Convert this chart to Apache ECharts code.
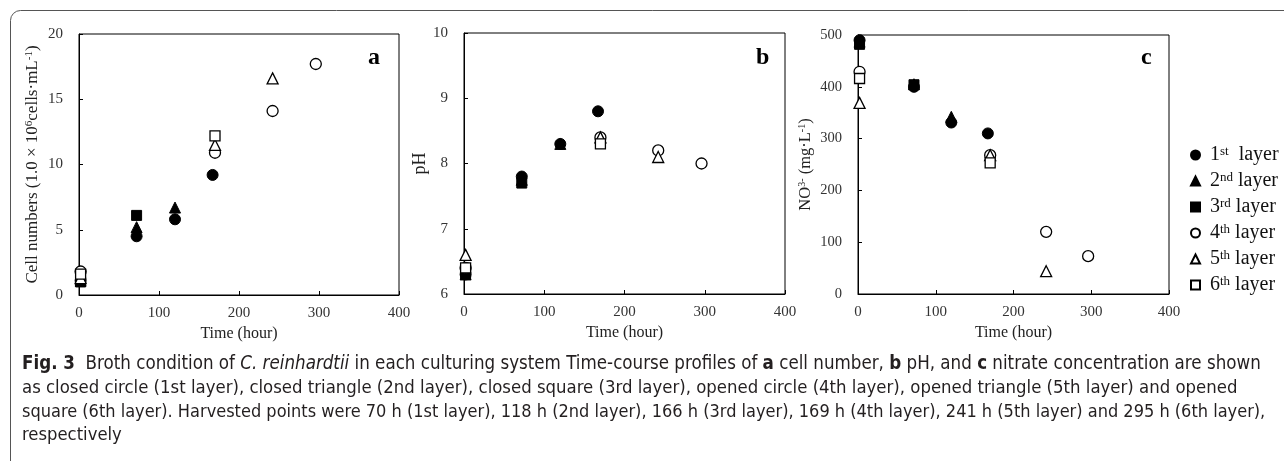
<!DOCTYPE html>
<html>
<head>
<meta charset="utf-8">
<title>Fig. 3</title>
<script src="https://cdn.jsdelivr.net/npm/echarts@6/dist/echarts.min.js"></script>
<style>
  html, body { margin: 0; padding: 0; background: #fff; }
  #chart { width: 1284px; height: 461px; }
</style>
</head>
<body>
<div id="chart"></div>
<script>
  // layer names and tick values
  const layers = ['1st layer', '2nd layer', '3rd layer', '4th layer', '5th layer', '6th layer'];
  const layerSup = ['st', 'nd', 'rd', 'th', 'th', 'th'];
  const timeTicks = [0, 400, 100];
  const cellTicks = [0, 20, 5];
  const phTicks = [6, 10, 1];
  const no3Ticks = [0, 500, 100];

  // a: cell numbers, [time (h), value]
  const cellL1 = [[2, 1.1], [72, 4.5], [120, 5.8], [167, 9.2]];
  const cellL2 = [[2, 1.1], [72, 5.2], [120, 6.7]];
  const cellL3 = [[2, 1.0], [72, 6.1]];
  const cellL4 = [[2, 1.8], [170, 10.9], [242, 14.1], [296, 17.7]];
  const cellL5 = [[2, 1.3], [170, 11.5], [242, 16.6]];
  const cellL6 = [[2, 1.6], [170, 12.2]];

  // b: pH
  const phL1 = [[2, 6.3], [72, 7.8], [120, 8.3], [167, 8.8]];
  const phL2 = [[2, 6.3], [72, 7.75], [120, 8.3]];
  const phL3 = [[2, 6.3], [72, 7.7]];
  const phL4 = [[2, 6.4], [170, 8.4], [242, 8.2], [296, 8.0]];
  const phL5 = [[2, 6.6], [170, 8.4], [242, 8.1]];
  const phL6 = [[2, 6.4], [170, 8.3]];

  // c: NO3- (mg/L)
  const no3L1 = [[2, 490], [72, 400], [120, 331], [167, 310]];
  const no3L2 = [[2, 487], [72, 405], [120, 342]];
  const no3L3 = [[2, 482], [72, 404]];
  const no3L4 = [[2, 429], [170, 268], [242, 120], [296, 73]];
  const no3L5 = [[2, 369], [170, 268], [242, 44]];
  const no3L6 = [[2, 416], [170, 253]];

  const panels = [
    [cellL1, cellL2, cellL3, cellL4, cellL5, cellL6],
    [phL1, phL2, phL3, phL4, phL5, phL6],
    [no3L1, no3L2, no3L3, no3L4, no3L5, no3L6]
  ];

  const serif = "'Liberation Serif', 'Times New Roman', serif";
  const capFont = "'DejaVu Sans Condensed', 'Liberation Sans Narrow', sans-serif";
  const symbols = ['circle', 'triangle', 'rect', 'circle', 'triangle', 'rect'];
  const filled = [true, true, true, false, false, false];

  const grids = [
    { left: 79, top: 34, width: 320, height: 261 },
    { left: 464, top: 33, width: 321, height: 261 },
    { left: 858, top: 35, width: 311, height: 259 }
  ];
  grids.forEach(g => { g.show = true; g.borderColor = '#000'; g.borderWidth = 1; g.backgroundColor = 'transparent'; });

  function supRich(size) {
    return {
      n: { fontFamily: serif, fontSize: size, color: '#222' },
      s: { fontFamily: serif, fontSize: Math.round(size * 0.62), color: '#222', verticalAlign: 'top' }
    };
  }

  function xAx(i, gap) {
    return {
      type: 'value', gridIndex: i, min: timeTicks[0], max: timeTicks[1], interval: timeTicks[2],
      name: 'Time (hour)', nameLocation: 'middle', nameGap: gap,
      nameTextStyle: { fontFamily: serif, fontSize: 16, color: '#222' },
      axisLine: { lineStyle: { color: '#000', width: 1 } },
      axisTick: { inside: true, length: 4, lineStyle: { color: '#000' } },
      axisLabel: { fontFamily: serif, fontSize: 15, color: '#333', margin: 11 },
      splitLine: { show: false }
    };
  }
  function yAx(i, t, name, gap, size, lblSize) {
    return {
      type: 'value', gridIndex: i, min: t[0], max: t[1], interval: t[2],
      name: name, nameLocation: 'middle', nameGap: gap,
      nameTextStyle: { fontFamily: serif, fontSize: size, color: '#222', rich: supRich(size) },
      axisLine: { lineStyle: { color: '#000', width: 1 } },
      axisTick: { inside: true, length: 4, lineStyle: { color: '#000' } },
      axisLabel: { fontFamily: serif, fontSize: lblSize, color: '#333', margin: 16 },
      splitLine: { show: false }
    };
  }

  const series = [];
  panels.forEach((panel, p) => {
    panel.forEach((data, k) => {
      series.push({
        name: layers[k], type: 'scatter', xAxisIndex: p, yAxisIndex: p,
        symbol: symbols[k], symbolSize: symbols[k] === 'rect' ? 10 : 11,
        itemStyle: filled[k]
          ? { color: '#000', borderColor: '#000', borderWidth: 1, opacity: 1 }
          : { color: '#fff', borderColor: '#000', borderWidth: 1.3, opacity: 1 },
        emphasis: { disabled: true },
        data: data
      });
    });
  });

  // each caption line gets its own size so its width matches the reference
  function captionLine(y, size, text) {
    return {
      type: 'text', left: 22, top: y,
      style: {
        text: text, fill: '#231f20', font: size + 'px ' + capFont,
        rich: {
          b: { fontFamily: capFont, fontSize: size, fontWeight: 'bold', fill: '#231f20' },
          i: { fontFamily: capFont, fontSize: size, fontStyle: 'italic', fill: '#231f20' }
        }
      }
    };
  }

  function panelLetter(x, y, t) {
    return { type: 'text', left: x, top: y, style: { text: t, fill: '#000', font: 'bold 24px ' + serif } };
  }

  const chart = echarts.init(document.getElementById('chart'), null, { renderer: 'canvas' });
  chart.setOption({
    animation: false,
    backgroundColor: '#fff',
    grid: grids,
    xAxis: [xAx(0, 30), xAx(1, 27), xAx(2, 30)],
    yAxis: [
      yAx(0, cellTicks, '{n|Cell numbers (1.0 × 10}{s|6}{n|cells·mL}{s|-1}{n|)}', 38, 17, 15),
      yAx(1, phTicks, '{n|pH}', 32, 18, 15),
      yAx(2, no3Ticks, '{n|NO}{s|3-}{n| (mg·L}{s|-1}{n|)}', 44, 16.5, 14.5)
    ],
    legend: {
      orient: 'vertical', left: 1185, top: 140,
      itemWidth: 9, itemHeight: 9, itemGap: 6,
      data: layers,
      formatter: name => {
        const i = layers.indexOf(name);
        return '{n| ' + (i + 1) + '}{s|' + layerSup[i] + '}{n|' + (i === 0 ? '  layer' : ' layer') + '}';
      },
      textStyle: {
        rich: {
          n: { fontFamily: serif, fontSize: 20, color: '#111', lineHeight: 20 },
          s: { fontFamily: serif, fontSize: 13, color: '#111', verticalAlign: 'top', lineHeight: 13 }
        }
      },
      selectedMode: false
    },
    graphic: [
      { type: 'rect', shape: { x: 10.5, y: 10.5, width: 1400, height: 700, r: 10 },
        style: { fill: 'none', stroke: '#555', lineWidth: 1 }, silent: true },
      panelLetter(368, 46, 'a'),
      panelLetter(756, 46, 'b'),
      panelLetter(1141, 46, 'c'),
      captionLine(355, 18.6, '{b|Fig. 3}  Broth condition of {i|C. reinhardtii} in each culturing system Time-course profiles of {b|a} cell number, {b|b} pH, and {b|c} nitrate concentration are shown'),
      captionLine(379, 18.4, 'as closed circle (1st layer), closed triangle (2nd layer), closed square (3rd layer), opened circle (4th layer), opened triangle (5th layer) and opened'),
      captionLine(403, 18.0, 'square (6th layer). Harvested points were 70 h (1st layer), 118 h (2nd layer), 166 h (3rd layer), 169 h (4th layer), 241 h (5th layer) and 295 h (6th layer),'),
      captionLine(426, 18.3, 'respectively')
    ],
    series: series
  });
</script>
</body>
</html>
